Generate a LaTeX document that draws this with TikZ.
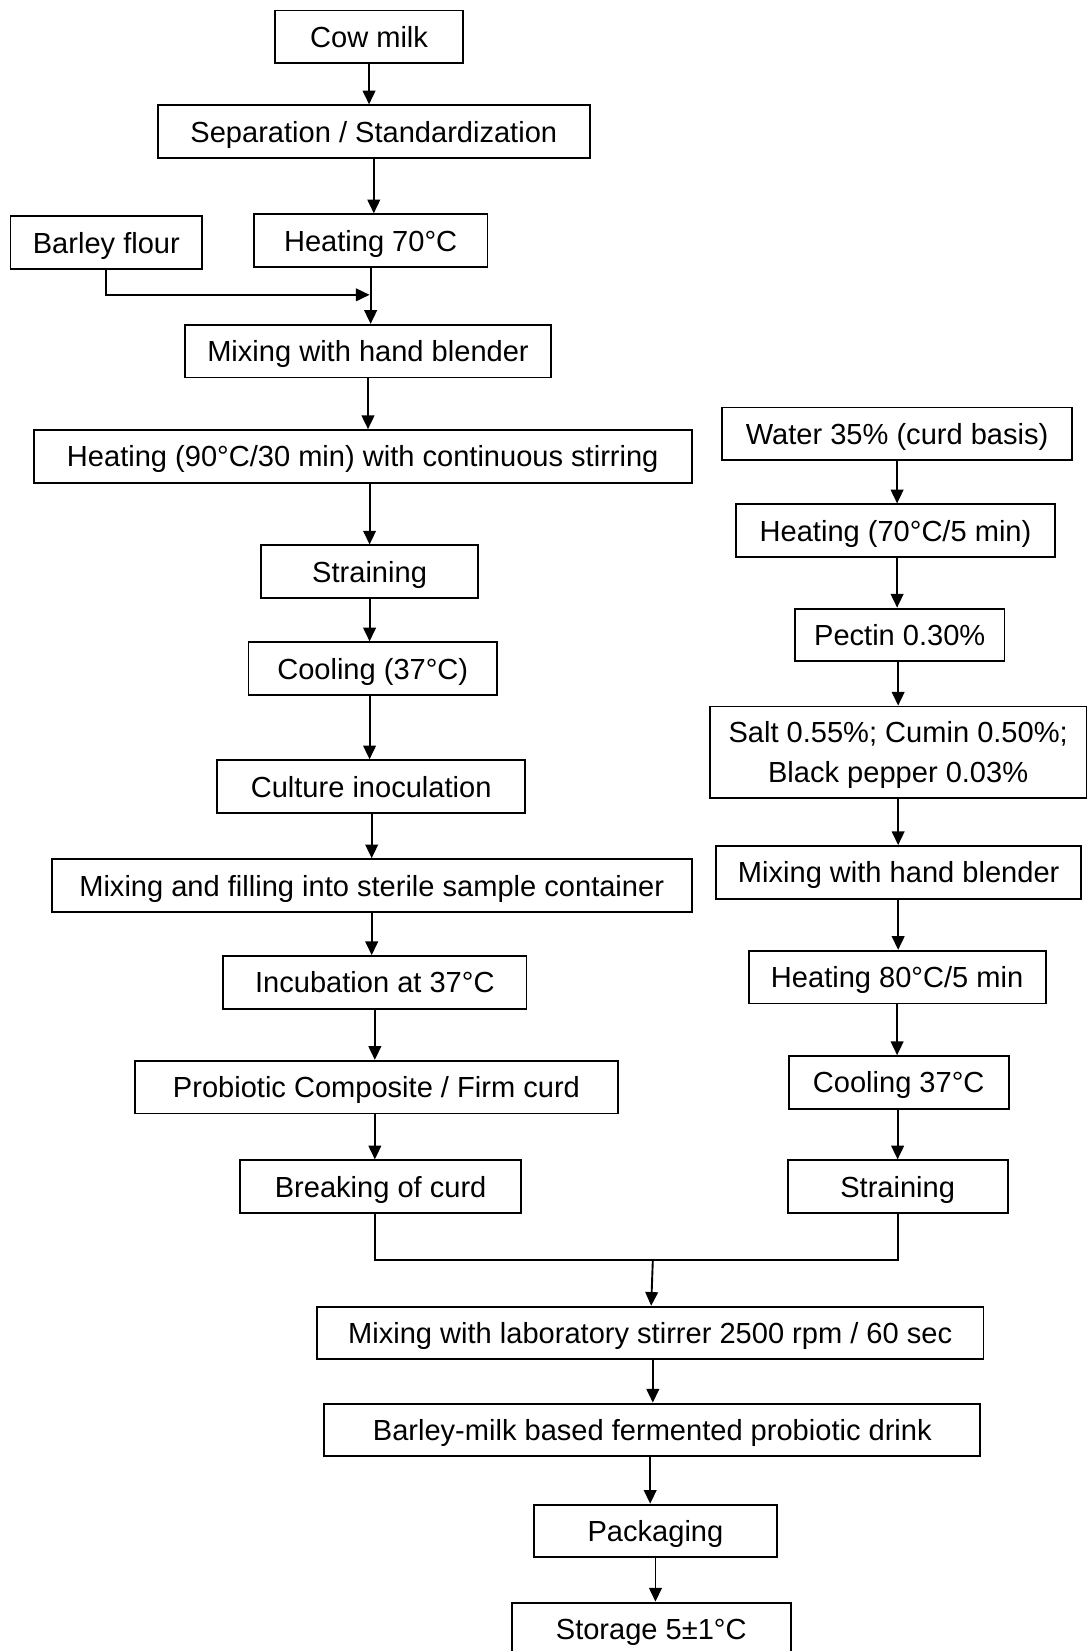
\documentclass[tikz,border=0pt]{standalone}
\usepackage{fontspec}
\setmainfont{Liberation Sans}
\usepackage{tikz}
\usetikzlibrary{arrows.meta,positioning,calc}

\begin{document}
\begin{tikzpicture}[
  x=0.5pt,y=-0.5pt,
  stepbox/.style={draw,line width=0.9pt,minimum height=25pt,inner sep=0pt,
                  font=\fontsize{13.8}{17}\selectfont,text height=10pt,text depth=0pt},
  twoline/.style={stepbox,text height=,text depth=0pt,align=center},
  arr/.style={-{Triangle[length=6.5pt,width=6pt]},line width=0.9pt},
  ln/.style={line width=0.9pt},
]
  \useasboundingbox (0,0) rectangle (1032,1568);

  % left branch
  \node[stepbox,minimum width=89.5pt] (cow) at (350.5,35) {Cow milk};
  \node[stepbox,minimum width=205pt] (sep) at (355,125) {Separation / Standardization};
  \node[stepbox,minimum width=91pt] (barley) at (101,230.5) {Barley flour};
  \node[stepbox,minimum width=111pt] (heatA) at (352,228.5) {Heating 70\textdegree C};
  \node[stepbox,minimum width=173.5pt] (mixA) at (349.5,333.5) {Mixing with hand blender};
  \node[stepbox,minimum width=312.5pt] (heatB) at (344.5,433.5) {Heating (90\textdegree C/30 min) with continuous stirring};
  \node[stepbox,minimum width=103pt] (strA) at (351,543) {Straining};
  \node[stepbox,minimum width=118pt] (coolA) at (354,635) {Cooling (37\textdegree C)};
  \node[stepbox,minimum width=146.5pt] (cult) at (352.5,747) {Culture inoculation};
  \node[stepbox,minimum width=304pt] (fill) at (353,841) {Mixing and filling into sterile sample container};
  \node[stepbox,minimum width=144pt] (incub) at (356,933) {Incubation at 37\textdegree C};
  \node[stepbox,minimum width=229.5pt] (curd) at (357.5,1032.5) {Probiotic Composite / Firm curd};
  \node[stepbox,minimum width=133.5pt] (brk) at (361.5,1127) {Breaking of curd};

  % right branch
  \node[stepbox,minimum width=166pt] (water) at (852,412) {Water 35\% (curd basis)};
  \node[stepbox,minimum width=151.5pt] (heatC) at (850.5,504) {Heating (70\textdegree C/5 min)};
  \node[stepbox,minimum width=99.5pt] (pectin) at (854.5,603) {Pectin 0.30\%};
  \node[twoline,minimum width=179pt,minimum height=43.5pt] (salt) at (853,714.5)
    {Salt 0.55\%; Cumin 0.50\%;\\[2pt]Black pepper 0.03\%};
  \node[stepbox,minimum width=173.5pt] (mixB) at (853.5,828.5) {Mixing with hand blender};
  \node[stepbox,minimum width=141pt] (heatD) at (852,928) {Heating 80\textdegree C/5 min};
  \node[stepbox,minimum width=104.5pt] (coolB) at (853.5,1028) {Cooling 37\textdegree C};
  \node[stepbox,minimum width=104.5pt] (strB) at (852.5,1127) {Straining};

  % joint part
  \node[stepbox,minimum width=316.5pt] (lab) at (617.5,1266) {Mixing with laboratory stirrer 2500 rpm / 60 sec};
  \node[stepbox,minimum width=311.5pt] (drink) at (619.5,1358) {Barley-milk based fermented probiotic drink};
  \node[stepbox,minimum width=115.5pt] (pack) at (622.5,1454) {Packaging};
  \node[stepbox,minimum width=132.5pt] (store) at (618.5,1547) {Storage 5\textpm 1\textdegree C};

  \coordinate (jn) at (351,280);
  \coordinate (mrg) at (620,1197);

  \draw[arr] (cow) -- (cow |- sep.north);
  \draw[arr] (sep) -- (sep |- heatA.north);
  \draw[arr] (barley) |- (jn);
  \draw[arr] (heatA) -- (heatA |- mixA.north);
  \draw[arr] (mixA) -- (mixA |- heatB.north);
  \draw[arr] (strA |- heatB.south) -- (strA);
  \draw[arr] (strA) -- (strA |- coolA.north);
  \draw[arr] (strA |- coolA.south) -- (strA |- cult.north);
  \draw[arr] (fill |- cult.south) -- (fill);
  \draw[arr] (fill) -- (fill |- incub.north);
  \draw[arr] (incub) -- (incub |- curd.north);
  \draw[arr] (incub |- curd.south) -- (incub |- brk.north);

  \draw[arr] (water) -- (water |- heatC.north);
  \draw[arr] (water |- heatC.south) -- (water |- pectin.north);
  \draw[arr] (salt |- pectin.south) -- (salt);
  \draw[arr] (salt) -- (salt |- mixB.north);
  \draw[arr] (salt |- mixB.south) -- (salt |- heatD.north);
  \draw[arr] (heatD) -- (heatD |- coolB.north);
  \draw[arr] (strB |- coolB.south) -- (strB);

  \draw[ln] (incub |- brk.south) |- (mrg) -| (strB);
  \draw[arr] (mrg) -- (lab);
  \draw[arr] (mrg |- lab.south) -- (mrg |- drink.north);
  \draw[arr] (lab |- drink.south) -- (lab |- pack.north);
  \draw[arr] (pack) -- (pack |- store.north);
\end{tikzpicture}
\end{document}
